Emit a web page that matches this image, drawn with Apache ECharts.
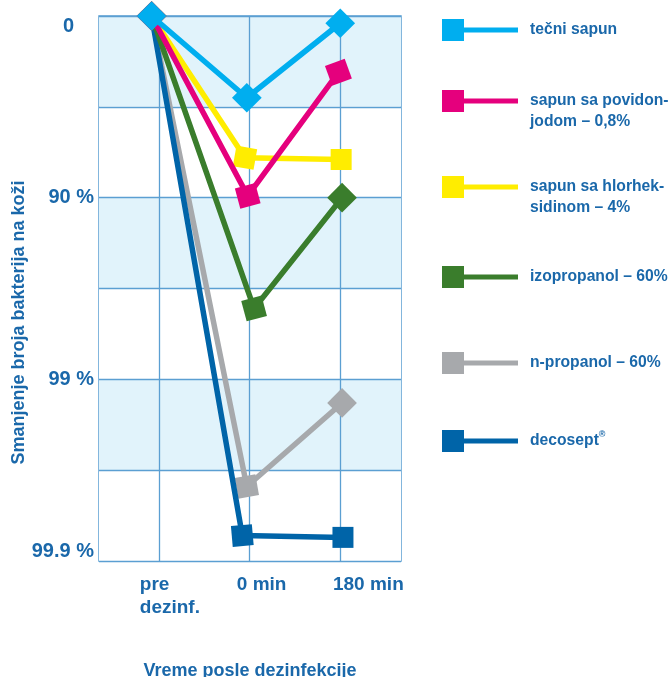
<!DOCTYPE html>
<html>
<head>
<meta charset="utf-8">
<script src="https://cdn.jsdelivr.net/npm/echarts@6/dist/echarts.min.js"></script>
<style>
html,body{margin:0;padding:0;background:#fff;}
#c{width:672px;height:677px;}
</style>
</head>
<body>
<div id="c"></div>
<script>
// ---- data ----
const xLabels = ['pre\ndezinf.', '0 min', '180 min'];
const yTickLabels = ['0', '90 %', '99 %', '99.9 %'];
const seriesNames = ['tečni sapun', 'sapun sa povidon-\njodom – 0,8%', 'sapun sa hlorhek-\nsidinom – 4%', 'izopropanol – 60%', 'n-propanol – 60%', 'decosept®'];
// log10 reduction at pre, 0 min, 180 min
const tecniSapun   = [0, 0.45, 0.04];
const povidonJod   = [0, 0.99, 0.31];
const hlorheksidin = [0, 0.78, 0.79];
const izopropanol  = [0, 1.61, 1.00];
const nPropanol    = [0, 2.59, 2.13];
const decosept     = [0, 2.86, 2.87];
// x positions of the points (category index, as drawn)
const xTecni   = [-0.08, 0.97, 2.00];
const xPovidon = [-0.08, 0.98, 1.98];
const xHlor    = [-0.08, 0.95, 2.01];
const xIzo     = [-0.08, 1.05, 2.02];
const xNprop   = [-0.08, 0.97, 2.02];
const xDeco    = [-0.08, 0.92, 2.03];

// ---- styles ----
const textColor = '#1a68aa';
const gridColor = '#5b9fd2';
const font = 'Liberation Sans, Arial, sans-serif';
const colors = ['#00aeef', '#e5007d', '#ffed00', '#3a7d2c', '#a7a9ac', '#0064a8'];
const rotations = [[45,45,45],[45,15,20],[45,-10,0],[45,15,45],[45,10,45],[45,5,0]];
const legendTops = [19, 69.5, 155.5, 266, 352, 430];
const xLabelShift = [-0.21, -0.14, -0.08];

const allVals = [tecniSapun, povidonJod, hlorheksidin, izopropanol, nPropanol, decosept];
const allX = [xTecni, xPovidon, xHlor, xIzo, xNprop, xDeco];
const zOrder = [16, 15, 14, 13, 11, 12];

const series = [{
  type: 'line', data: [], silent: true, z: 1,
  markLine: {
    silent: true, symbol: 'none', label: {show: false},
    lineStyle: {color: gridColor, width: 1.3, type: 'solid'},
    data: [0, 1, 2].map(v => ({xAxis: v}))
  }
}];
seriesNames.forEach((name, i) => {
  series.push({
    name: name,
    type: 'line',
    z: zOrder[i],
    data: allVals[i].map((v, j) => ({
      value: [allX[i][j], v],
      symbolRotate: rotations[i][j]
    })),
    symbol: 'rect',
    symbolSize: 21,
    lineStyle: {width: 5.5, color: colors[i]},
    itemStyle: {color: colors[i]},
    emphasis: {disabled: true},
    animation: false
  });
});

const legendIcon = 'path://M0,0H22V22H0Z M22,8.5H76V13.5H22Z';
const legends = seriesNames.map((name, i) => ({
  left: 442, top: legendTops[i],
  padding: 0,
  orient: 'vertical',
  data: [name],
  icon: legendIcon,
  itemWidth: 76, itemHeight: 22,
  selectedMode: false,
  formatter: n => n === 'decosept®' ? 'decosept{sup|®}' : n,
  textStyle: {
    color: textColor, fontWeight: 'bold', fontSize: 15.7, fontFamily: font,
    lineHeight: 21,
    padding: name.indexOf('\n') >= 0 ? [21, 0, 0, 7] : [0, 0, 0, 7],
    rich: {sup: {fontSize: 9, fontWeight: 'bold', color: textColor, fontFamily: font, verticalAlign: 'top', padding: [0, 0, 8, 0]}}
  }
}));

const option = {
  animation: false,
  backgroundColor: '#fff',
  color: colors,
  grid: {left: 99, right: 271, top: 16, bottom: 116, outerBoundsMode: 'none', containLabel: false,
         show: true, borderColor: gridColor, borderWidth: 1.5, backgroundColor: 'transparent'},
  legend: legends,
  xAxis: {
    type: 'value', min: -0.66, max: 2.67,
    axisLine: {show: false}, axisTick: {show: false}, splitLine: {show: false},
    axisLabel: {
      customValues: [0, 1, 2].map((v, i) => v + xLabelShift[i]),
      formatter: (v) => {
        let best = 0, d = 1e9;
        [0, 1, 2].forEach((c, i) => { const dd = Math.abs(c + xLabelShift[i] - v); if (dd < d) { d = dd; best = i; } });
        return xLabels[best];
      },
      align: 'left', verticalAlign: 'top', margin: 12, lineHeight: 23,
      color: textColor, fontWeight: 'bold', fontSize: 19, fontFamily: font
    },
    name: 'Vreme posle dezinfekcije', nameLocation: 'middle', nameGap: 101,
    nameTextStyle: {color: textColor, fontWeight: 'bold', fontSize: 18, fontFamily: font}
  },
  yAxis: {
    type: 'value', inverse: true, min: 0, max: 3, interval: 0.5,
    axisLine: {show: false}, axisTick: {show: false},
    splitLine: {show: true, lineStyle: {color: gridColor, width: 1.3}},
    splitArea: {show: true, areaStyle: {color: ['#e1f3fb', '#ffffff']}},
    axisLabel: {
      formatter: v => {
        if (Math.abs(v - Math.round(v)) > 1e-6) return '';
        const i = Math.round(v);
        return i === 0 ? '{z|' + yTickLabels[0] + '}' : yTickLabels[i];
      },
      verticalAlignMinLabel: 'top', verticalAlignMaxLabel: 'bottom',
      margin: 5, color: textColor, fontWeight: 'bold', fontSize: 20, fontFamily: font,
      rich: {z: {color: textColor, fontWeight: 'bold', fontSize: 20, fontFamily: font, padding: [0, 20, 0, 0]}}
    },
    name: 'Smanjenje broja bakterija na koži', nameLocation: 'middle', nameGap: 71,
    nameTextStyle: {color: textColor, fontWeight: 'bold', fontSize: 18, fontFamily: font, padding: [0, 68, 0, 0]}
  },
  series: series
};

const chart = echarts.init(document.getElementById('c'), null, {renderer: 'canvas'});
chart.setOption(option);
</script>
</body>
</html>
